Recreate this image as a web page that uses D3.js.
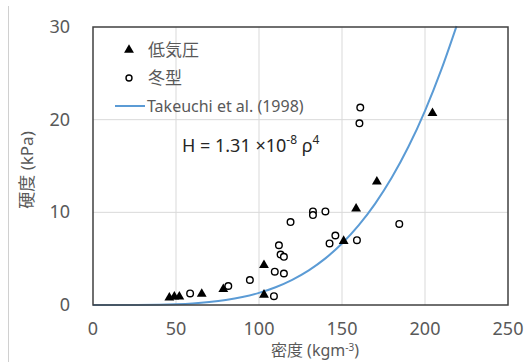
<!DOCTYPE html>
<html>
<head>
<meta charset="utf-8">
<script src="https://cdn.jsdelivr.net/npm/d3@7"></script>
<style>
  body { margin: 0; background: #fff; }
  svg { display: block; }
  text { font-family: "Noto Sans", "Noto Sans CJK JP", sans-serif; }
</style>
</head>
<body>
<script>
// low pressure (triangles)
const lowDensity  = [46, 49, 52, 65.5, 78.5, 103, 103, 151, 158.5, 171, 204.5];
const lowHardness = [0.8, 0.9, 0.9, 1.2, 1.7, 1.1, 4.3, 6.9, 10.4, 13.3, 20.7];
// winter monsoon type (open circles)
const winDensity  = [58.5, 81.5, 94.5, 109.5, 109, 115, 112, 113, 115, 119, 132.5, 132.5, 140, 142.5, 146, 159, 160.5, 161, 184.5];
const winHardness = [1.25, 2.05, 2.7, 3.6, 0.95, 3.4, 6.45, 5.45, 5.2, 8.95, 10.1, 9.7, 10.1, 6.65, 7.5, 7.0, 19.6, 21.3, 8.75];
// Takeuchi et al. (1998) curve
const curveDensity  = [0, 20, 40, 50, 60, 70, 80, 90, 100, 110, 120, 130, 140, 150, 160, 170, 180, 190, 200, 210, 219];
const curveHardness = [0, 0.002, 0.03, 0.08, 0.17, 0.32, 0.54, 0.86, 1.31, 1.92, 2.72, 3.74, 5.03, 6.63, 8.59, 10.94, 13.75, 17.07, 20.96, 25.48, 30.1];

const xTicks = [0, 50, 100, 150, 200, 250];
const yTicks = [0, 10, 20, 30];

const W = 529, H = 362;
const svg = d3.select('body').append('svg').attr('width', W).attr('height', H);
svg.append('rect').attr('width', W).attr('height', H).attr('fill', '#fff');

// faint outer chart edge on the left
svg.append('line').attr('x1', 8.5).attr('x2', 8.5).attr('y1', 6).attr('y2', H)
  .attr('stroke', '#d0d0d0').attr('stroke-width', 1);

const x = d3.scaleLinear().domain([0, 250]).range([93, 508]);
const y = d3.scaleLinear().domain([0, 30]).range([305, 27]);

const grey = '#595959';

// grid
svg.append('g').selectAll('line').data(xTicks.slice(1, -1)).join('line')
  .attr('x1', d => x(d)).attr('x2', d => x(d)).attr('y1', y(0)).attr('y2', y(30))
  .attr('stroke', '#d9d9d9').attr('stroke-width', 1);
svg.append('g').selectAll('line').data(yTicks.slice(1, -1)).join('line')
  .attr('x1', x(0)).attr('x2', x(250)).attr('y1', d => y(d)).attr('y2', d => y(d))
  .attr('stroke', '#d9d9d9').attr('stroke-width', 1);

// tick labels
svg.append('g').selectAll('text').data(xTicks).join('text')
  .attr('x', d => x(d)).attr('y', 335)
  .attr('text-anchor', 'middle').attr('font-size', 18).attr('fill', grey)
  .text(d => d);
svg.append('g').selectAll('text').data(yTicks).join('text')
  .attr('x', 70).attr('y', d => y(d) + 6)
  .attr('text-anchor', 'end').attr('font-size', 18).attr('fill', grey)
  .text(d => d);

// axis titles
const xt = svg.append('text').attr('x', 315).attr('y', 356)
  .attr('text-anchor', 'middle').attr('font-size', 16).attr('fill', grey);
xt.append('tspan').text('密度 (kgm');
xt.append('tspan').attr('dy', -5).attr('font-size', 10).text('-3');
xt.append('tspan').attr('dy', 5).text(')');

svg.append('text')
  .attr('transform', 'translate(33,170) rotate(-90)')
  .attr('text-anchor', 'middle').attr('font-size', 17).attr('fill', grey)
  .text('硬度 (kPa)');

// curve
const curvePts = curveDensity.map((d, i) => [d, curveHardness[i]]);
svg.append('path').datum(curvePts)
  .attr('fill', 'none').attr('stroke', '#5b9bd5').attr('stroke-width', 2)
  .attr('d', d3.line().x(d => x(d[0])).y(d => y(d[1])).curve(d3.curveMonotoneX));

// markers
const tri = d3.symbol().type(d3.symbolTriangle).size(42);
svg.append('g').selectAll('path').data(lowDensity.map((d, i) => [d, lowHardness[i]])).join('path')
  .attr('transform', d => `translate(${x(d[0])},${y(d[1])})`)
  .attr('d', tri).attr('fill', '#000');
svg.append('g').selectAll('circle').data(winDensity.map((d, i) => [d, winHardness[i]])).join('circle')
  .attr('cx', d => x(d[0])).attr('cy', d => y(d[1])).attr('r', 3.3)
  .attr('fill', '#fff').attr('stroke', '#000').attr('stroke-width', 1.4);

// frame
svg.append('rect').attr('x', x(0)).attr('y', y(30))
  .attr('width', x(250) - x(0)).attr('height', y(0) - y(30))
  .attr('fill', 'none').attr('stroke', '#404040').attr('stroke-width', 1.5);

// legend
const lg = svg.append('g');
lg.append('path').attr('transform', 'translate(129,50)').attr('d', tri).attr('fill', '#000');
lg.append('text').attr('x', 148).attr('y', 56).attr('font-size', 17).attr('fill', grey).text('低気圧');
lg.append('circle').attr('cx', 129).attr('cy', 78).attr('r', 3)
  .attr('fill', '#fff').attr('stroke', '#000').attr('stroke-width', 1.4);
lg.append('text').attr('x', 148).attr('y', 84).attr('font-size', 17).attr('fill', grey).text('冬型');
lg.append('line').attr('x1', 115).attr('x2', 145).attr('y1', 106).attr('y2', 106)
  .attr('stroke', '#5b9bd5').attr('stroke-width', 2);
lg.append('text').attr('x', 147).attr('y', 112).attr('font-size', 16).attr('fill', grey).text('Takeuchi et al. (1998)');

// equation
const eq = svg.append('text').attr('x', 182).attr('y', 152).attr('font-size', 18).attr('fill', '#262626');
eq.append('tspan').text('H = 1.31 ×10');
eq.append('tspan').attr('dy', -8).attr('font-size', 12).text('-8');
eq.append('tspan').attr('dy', 8).text(' ρ');
eq.append('tspan').attr('dy', -8).attr('font-size', 12).text('4');
</script>
</body>
</html>
